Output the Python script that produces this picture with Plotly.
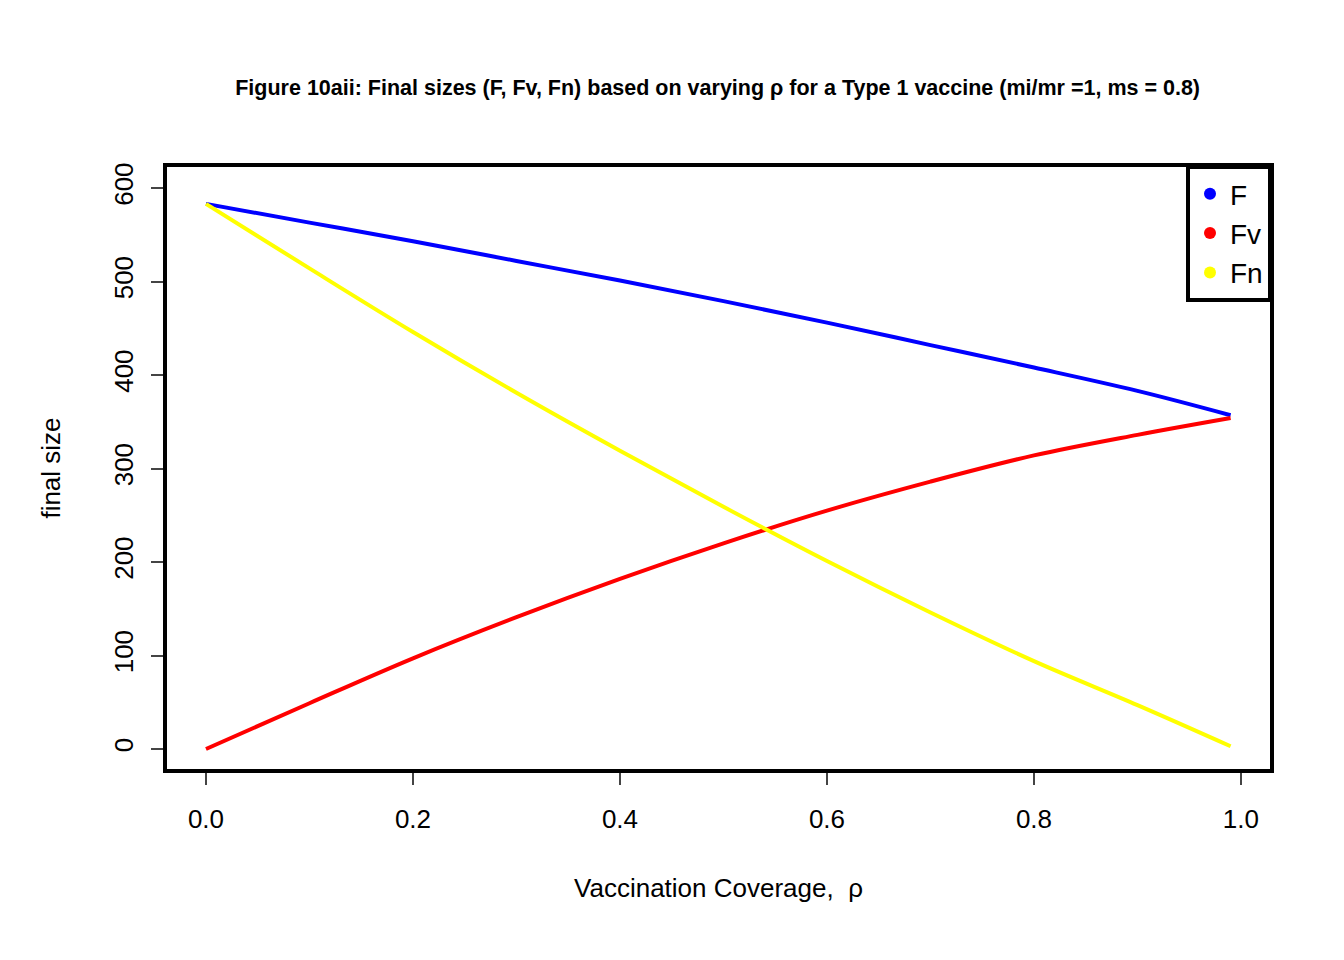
import plotly.graph_objects as go

rho = [0.0, 0.1, 0.2, 0.3, 0.4, 0.5, 0.6, 0.7, 0.8, 0.9, 0.99]
F = [583, 563, 543, 522, 501, 479, 456, 432, 408, 383, 357]
Fv = [0, 49, 97, 141, 182, 220, 255, 286, 314, 336, 354]
Fn = [583, 514, 446, 381, 319, 259, 201, 146, 94, 47, 3]
names = ["F", "Fv", "Fn"]
colors = ["blue", "red", "yellow"]

fig = go.Figure()
for name, ys, c in zip(names, [F, Fv, Fn], colors):
    fig.add_trace(go.Scatter(x=rho, y=ys, mode="lines", line=dict(color=c, width=4, shape="spline"),
                             showlegend=False))
    fig.add_trace(go.Scatter(x=[None], y=[None], mode="markers", name=name,
                             marker=dict(color=c, size=13)))

font = "Liberation Sans, Arial, sans-serif"
fig.update_layout(
    width=1344, height=960,
    paper_bgcolor="white", plot_bgcolor="white",
    margin=dict(l=157, r=80, t=157, b=197, autoexpand=False),
    font=dict(family=font, size=26, color="black"),
    title=dict(text="<b>Figure 10aii: Final sizes (F, Fv, Fn) based on varying ρ for a Type 1 vaccine (mi/mr =1, ms = 0.8)</b>",
               x=0.528, xanchor="center", y=0.917, yanchor="middle", font=dict(size=21.5)),
    xaxis=dict(range=[-0.0396, 1.03], tickvals=[0, 0.2, 0.4, 0.6, 0.8, 1.0],
               ticktext=["0.0", "0.2", "0.4", "0.6", "0.8", "1.0"], automargin=False,
               ticks="outside", ticklen=13, tickwidth=2, showgrid=False, zeroline=False,
               tickfont=dict(size=26), ticklabelstandoff=12,
               title=dict(text="Vaccination Coverage,  ρ", standoff=45, font=dict(size=26))),
    yaxis=dict(range=[-23.5, 624.6], tickvals=[0, 100, 200, 300, 400, 500, 600],
               tickangle=-90, ticks="outside", ticklen=13, tickwidth=2, automargin=False,
               showgrid=False, zeroline=False, tickfont=dict(size=26), ticklabelstandoff=8,
               title=dict(text="final size", standoff=40, font=dict(size=26))),
    legend=dict(x=1, y=1, xanchor="right", yanchor="top", bordercolor="black",
                borderwidth=4, bgcolor="white", font=dict(size=28),
                itemsizing="constant", tracegroupgap=0, itemwidth=30),
    shapes=[dict(type="rect", xref="paper", yref="paper", x0=0, x1=1, y0=0, y1=1,
                 line=dict(color="black", width=4))],
)
fig.write_html("out.html")
